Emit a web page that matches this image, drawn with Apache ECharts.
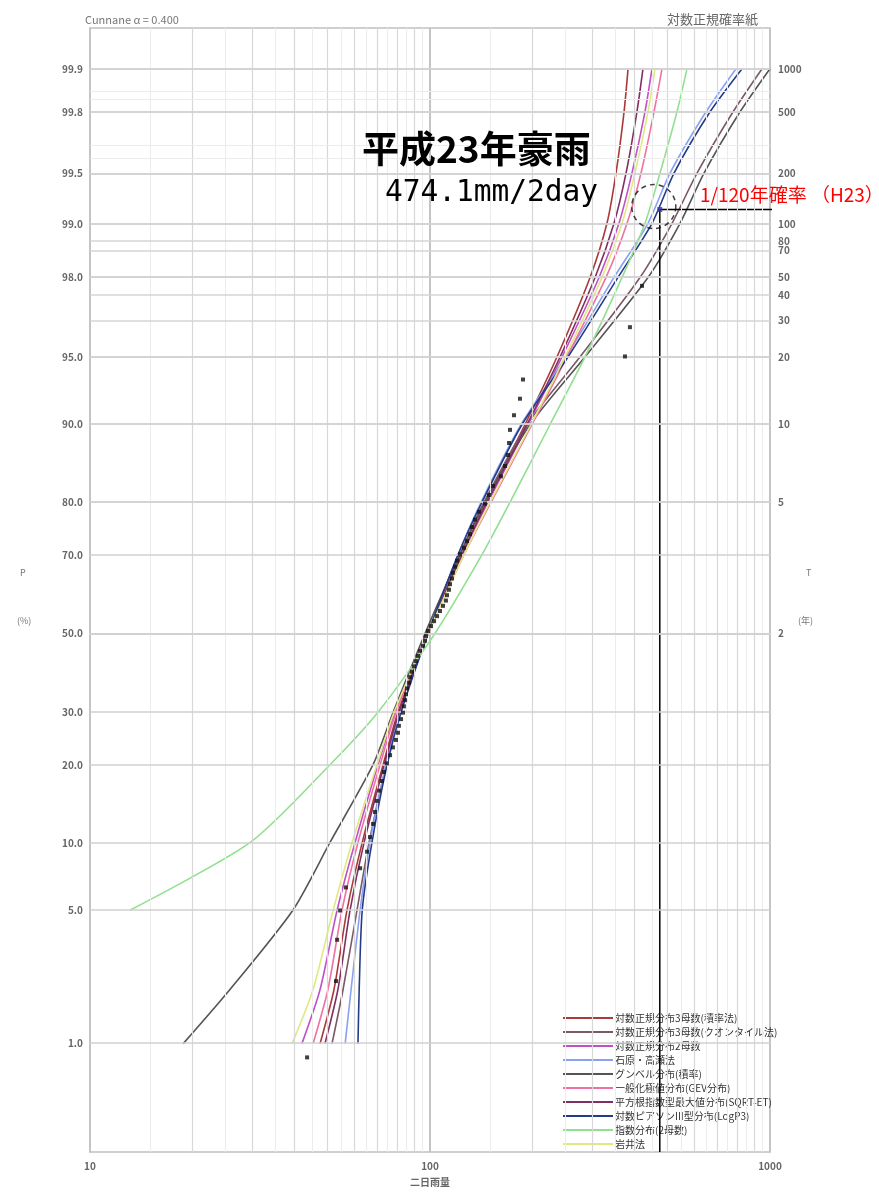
<!DOCTYPE html>
<html><head><meta charset="utf-8">
<script src="https://cdn.jsdelivr.net/npm/echarts@6/dist/echarts.min.js"></script>
<style>html,body{margin:0;padding:0;background:#fff}#c{width:879px;height:1192px}</style>
</head><body><div id="c"></div>
<script>
// ---------- data ----------
// non-exceedance probabilities (%) at which every fitted curve was read
const curveProbs = [1, 2, 5, 10, 20, 30, 50, 70, 80, 90, 95, 98, 99, 99.5, 99.8, 99.9];
const curveNames = [
  '対数正規分布3母数(積率法)',
  '対数正規分布3母数(クオンタイル法)',
  '対数正規分布2母数',
  '石原・高瀬法',
  'グンベル分布(積率)',
  '一般化極値分布(GEV分布)',
  '平方根指数型最大値分布(SQRT-ET)',
  '対数ピアソンIII型分布(LogP3)',
  '指数分布(2母数)',
  '岩井法'
];
// two-day rainfall (mm) of each fitted curve at curveProbs
const curve1  = [47.5, 52.2, 57.0, 63.2, 72.8, 80.5, 98.7, 124.2, 146.1, 190.3, 236.4, 295.6, 331.5, 352.4, 372.2, 382.4];
const curve2  = [51.5, 55.5, 61.0, 66.2, 74.3, 81.6, 98.7, 122.5, 144.2, 192.9, 276.4, 414.6, 515.1, 610.1, 778.7, 947.8];
const curve3  = [42.0, 47.5, 53.3, 60.2, 70.3, 78.9, 98.0, 124.2, 148.1, 194.2, 244.7, 314.2, 359.6, 392.6, 428.9, 449.8];
const curve4  = [56.3, 58.6, 62.3, 66.6, 74.3, 81.6, 98.7, 120.9, 141.3, 185.3, 251.4, 347.7, 437.7, 508.1, 648.4, 794.7];
const curve5  = [18.8, 25.8, 39.5, 50.8, 68.0, 77.9, 96.7, 122.5, 145.1, 196.9, 285.9, 437.7, 543.7, 639.7, 816.5, 1000];
const curve6  = [45.3, 50.1, 55.1, 61.4, 71.3, 79.5, 98.7, 125.9, 151.2, 199.6, 253.1, 329.3, 379.8, 417.4, 455.9, 481.3];
const curve7  = [49.1, 53.6, 58.2, 64.0, 73.3, 81.1, 98.7, 124.2, 147.1, 192.9, 241.4, 305.8, 347.7, 377.2, 406.1, 423.1];
const curve8  = [61.4, 61.9, 63.2, 67.5, 74.8, 82.2, 98.7, 120.9, 142.2, 186.5, 254.8, 357.2, 449.8, 522.1, 666.3, 827.7];
const curve9  = [null, null, 13.1, 29.6, 50.8, 70.3, 103.4, 142.2, 172.0, 225.5, 285.9, 367.2, 428.9, 474.8, 532.7, 570.1];
const curve10 = [39.3, 45.3, 51.9, 59.0, 69.8, 78.4, 98.7, 125.9, 150.2, 198.2, 249.7, 320.5, 367.2, 400.6, 437.7, 459.0];
const curveColors = ['#a83a3a', '#7a5868', '#c050c8', '#8aa0f0', '#555555', '#f070a0', '#803060', '#243c88', '#90e090', '#e0e880'];

// observed annual maximum two-day rainfall (mm), sorted from largest (rank 1) down
const rainfall = [474.1, 420.3, 387.3, 374.6, 187.7, 183.9, 176.6, 171.9, 170.8, 169.6,
  166.2, 161.7, 153.2, 149.1, 145.1, 139.4, 135.6, 132.9, 131.1, 128.5,
  125.9, 122.5, 120.1, 118.5, 116.8, 116.1, 114.5, 113.7, 112.2, 111.4,
  109.2, 107.0, 104.9, 102.8, 100.7, 98.7, 97.3, 96.7, 95.4, 93.5,
  92.2, 90.9, 89.7, 88.5, 87.4, 86.8, 85.6, 85.0, 84.5, 83.8,
  83.3, 82.2, 81.0, 80.5, 79.4, 77.8, 76.3, 74.7, 73.2, 72.2,
  70.8, 69.8, 68.9, 68.0, 66.6, 65.3, 62.3, 56.6, 54.4, 53.3,
  52.9, 43.5];
const plotAlpha = 0.4;   // Cunnane plotting position constant

// tick labels
const leftTicks  = [99.9, 99.8, 99.5, 99, 98, 95, 90, 80, 70, 50, 30, 20, 10, 5, 1];
const leftLabels = ['99.9', '99.8', '99.5', '99.0', '98.0', '95.0', '90.0', '80.0', '70.0', '50.0', '30.0', '20.0', '10.0', '5.0', '1.0'];
const rightTicks = [1000, 500, 200, 100, 80, 70, 50, 40, 30, 20, 10, 5, 2];
const rightMinorTicks = [700, 600, 300, 250];
const xMajorGrid = [20, 30, 40, 50, 60, 70, 80, 90, 200, 300, 400, 500, 600, 700, 800, 900];
const xHalfGrid  = [15, 25, 35, 45, 55, 65, 75, 85, 95, 150, 250, 350, 450, 550, 650, 750, 850, 950];
const probTop = 99.95, probBottom = 0.21;

// ---------- probability-paper scale ----------
function normInv(p) {
  const a = [-3.969683028665376e+01, 2.209460984245205e+02, -2.759285104469687e+02, 1.383577518672690e+02, -3.066479806614716e+01, 2.506628277459239e+00];
  const b = [-5.447609879822406e+01, 1.615858368580409e+02, -1.556989798598866e+02, 6.680131188771972e+01, -1.328068155288572e+01];
  const c = [-7.784894002430293e-03, -3.223964580411365e-01, -2.400758277161838e+00, -2.549732539343734e+00, 4.374664141464968e+00, 2.938163982698783e+00];
  const d = [7.784695709041462e-03, 3.224671290700398e-01, 2.445134137142996e+00, 3.754408661907416e+00];
  const pl = 0.02425, ph = 1 - pl; let q, r;
  if (p < pl) { q = Math.sqrt(-2 * Math.log(p)); return (((((c[0]*q+c[1])*q+c[2])*q+c[3])*q+c[4])*q+c[5]) / ((((d[0]*q+d[1])*q+d[2])*q+d[3])*q+1); }
  if (p <= ph) { q = p - 0.5; r = q*q; return (((((a[0]*r+a[1])*r+a[2])*r+a[3])*r+a[4])*r+a[5])*q / (((((b[0]*r+b[1])*r+b[2])*r+b[3])*r+b[4])*r+1); }
  q = Math.sqrt(-2 * Math.log(1 - p)); return -(((((c[0]*q+c[1])*q+c[2])*q+c[3])*q+c[4])*q+c[5]) / ((((d[0]*q+d[1])*q+d[2])*q+d[3])*q+1);
}
// the printed paper is a normal-quantile scale slightly stretched toward the tails
const paperShape = [0.1516, -0.01684];
function paper(pct) {
  const z = normInv(pct / 100);
  return z * (1 + paperShape[0] * Math.abs(z) + paperShape[1] * z * z);
}
const periodToPct = T => 100 * (1 - 1 / T);
const N = rainfall.length;
const plotPct = i => 100 * (1 - (i + 1 - plotAlpha) / (N + 1 - 2 * plotAlpha));

const uMax = paper(probTop), uMin = paper(probBottom);
const FONT = '"Noto Sans CJK JP", "Noto Sans", sans-serif';
const allCurves = [curve1, curve2, curve3, curve4, curve5, curve6, curve7, curve8, curve9, curve10];

const series = [];
function gridSeries(lineStyle, data, label) {
  return { type: 'line', data: [], silent: true, z: 1,
    markLine: { silent: true, symbol: 'none', animation: false, label: label || { show: false },
      lineStyle: Object.assign({ type: 'solid' }, lineStyle), data: data } };
}
// vertical grid
series.push(gridSeries({ color: '#ececec', width: 1 }, xHalfGrid.map(v => ({ xAxis: v }))));
series.push(gridSeries({ color: '#d8d8d8', width: 1.2 }, xMajorGrid.map(v => ({ xAxis: v }))));
// horizontal grid: right-hand return periods
series.push(gridSeries({ color: '#ececec', width: 1 }, rightMinorTicks.map(T => ({ yAxis: paper(periodToPct(T)) }))));
series.push(gridSeries({ color: '#d4d4d4', width: 1.5 },
  rightTicks.map(T => ({ yAxis: paper(periodToPct(T)), label: { formatter: String(T) } })),
  { show: true, position: 'end', distance: 8, color: '#666', fontSize: 10, fontWeight: 'bold', fontFamily: FONT }));
// horizontal grid: left-hand probabilities
series.push(gridSeries({ color: '#d0d0d0', width: 1.5 },
  leftTicks.map((p, i) => ({ yAxis: paper(p), label: { formatter: leftLabels[i] } })),
  { show: true, position: 'start', distance: 7, color: '#666', fontSize: 10, fontWeight: 'bold', fontFamily: FONT }));

// fitted curves
allCurves.forEach((cv, k) => {
  const pts = [];
  cv.forEach((v, i) => { if (v != null) pts.push([v, paper(curveProbs[i])]); });
  series.push({ name: curveNames[k], type: 'line', data: pts, symbol: 'none', smooth: 0.25,
    z: 3, lineStyle: { color: curveColors[k], width: 1.6 }, itemStyle: { color: curveColors[k] } });
});

// annotation lines for the H23 event
const u1 = paper(plotPct(0));
series.push({ type: 'line', data: [[1035, u1], [rainfall[0], u1], [rainfall[0], uMin]], symbol: 'none', clip: false,
  silent: true, z: 4, lineStyle: { color: '#000', width: 1.5 } });
// observations
series.push({ type: 'scatter', data: rainfall.map((v, i) => [v, paper(plotPct(i))]).slice(1), symbol: 'rect', symbolSize: 4,
  z: 5, itemStyle: { color: '#111' } });
series.push({ type: 'scatter', data: [[rainfall[0], u1]], symbol: 'rect', symbolSize: 5, z: 6, itemStyle: { color: '#3a3aa8' } });
series.push({ type: 'scatter', data: [[rainfall[0], u1]], symbol: 'circle', symbolSize: 44, symbolOffset: [-6, -3], z: 6, silent: true,
  itemStyle: { color: 'rgba(0,0,0,0)', borderColor: '#111', borderWidth: 1.5, borderType: [5, 4] } });

const chart = echarts.init(document.getElementById('c'), null, { renderer: 'canvas' });
chart.setOption({
  animation: false,
  backgroundColor: '#fff',
  grid: { left: 90, right: 109, top: 28, bottom: 40, show: true, borderColor: '#cfcfcf', borderWidth: 2, backgroundColor: 'transparent' },
  xAxis: { type: 'log', logBase: 10, min: 10, max: 1000,
    axisLine: { show: true, lineStyle: { color: '#cfcfcf', width: 2 } }, axisTick: { show: false },
    splitLine: { show: true, lineStyle: { color: '#c4c4c4', width: 2 } },
    axisLabel: { color: '#666', fontSize: 10, fontWeight: 'bold', margin: 9, fontFamily: FONT, formatter: v => String(v) },
    name: '二日雨量', nameLocation: 'middle', nameGap: 25,
    nameTextStyle: { color: '#666', fontSize: 10, fontWeight: 'bold', fontFamily: FONT } },
  yAxis: { type: 'value', min: uMin, max: uMax, axisLine: { show: false }, axisTick: { show: false },
    axisLabel: { show: false }, splitLine: { show: false } },
  legend: { orient: 'vertical', left: 558, top: 1008, itemWidth: 50, itemHeight: 10, itemGap: 4,
    data: curveNames, icon: 'path://M0,4L50,4L50,6L0,6Z', selectedMode: false,
    textStyle: { fontSize: 10, color: '#333', fontFamily: FONT, padding: [0, 0, 0, -3] } },
  graphic: { elements: [
    { type: 'text', z: 100, left: 85, top: 14, style: { text: 'Cunnane α = 0.400', font: '11px ' + FONT, fill: '#777' } },
    { type: 'text', z: 100, left: 667, top: 13, style: { text: '対数正規確率紙', font: '13px ' + FONT, fill: '#666' } },
    { type: 'text', z: 100, left: 362, top: 130, style: { text: '平成23年豪雨', font: 'bold 37px ' + FONT, fill: '#000' } },
    { type: 'text', z: 100, left: 385, top: 178, style: { text: '474.1mm/2day', font: '29.5px "DejaVu Sans Mono", monospace', fill: '#000' } },
    { type: 'text', z: 100, left: 700, top: 185, style: { text: '1/120年確率 （H23）', font: '19px ' + FONT, fill: '#ff0000' } },
    { type: 'text', z: 100, left: 20, top: 568, style: { text: 'P', font: '9px ' + FONT, fill: '#777' } },
    { type: 'text', z: 100, left: 17, top: 616, style: { text: '(%)', font: '9px ' + FONT, fill: '#777' } },
    { type: 'text', z: 100, left: 806, top: 568, style: { text: 'T', font: '9px ' + FONT, fill: '#777' } },
    { type: 'text', z: 100, left: 798, top: 616, style: { text: '(年)', font: '9px ' + FONT, fill: '#777' } }
  ] },
  series: series
});
</script></body></html>
